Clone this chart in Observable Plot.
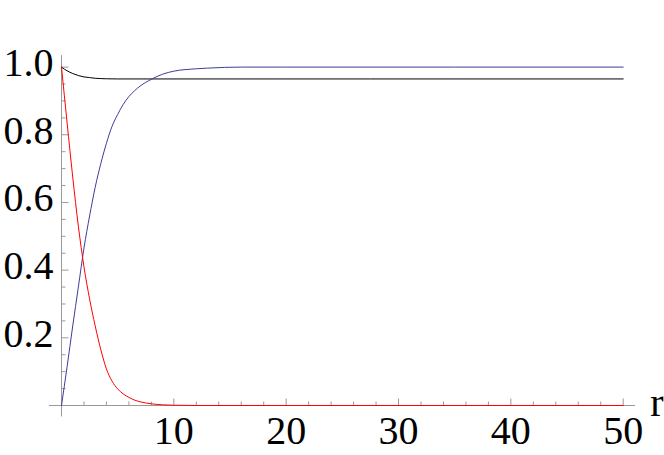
<!DOCTYPE html>
<html>
<head>
<meta charset="utf-8">
<script src="https://cdn.jsdelivr.net/npm/d3@7"></script>
<script src="https://cdn.jsdelivr.net/npm/@observablehq/plot@0.6"></script>
<style>
  html, body { margin: 0; padding: 0; background: #fff; }
  #chart svg { display: block; }
</style>
</head>
<body>
<div id="chart"></div>
<script>
// ---- data ----
const blackR = [0, 0.25, 0.5, 1, 1.5, 2, 2.5, 3, 3.5, 4, 5, 50];
const blackV = [1.0, 0.994, 0.989, 0.981, 0.975, 0.971, 0.969, 0.967, 0.966, 0.9655, 0.965, 0.965];

const blueR = [0, 0.5, 1, 1.5, 2, 2.5, 3, 3.5, 4, 4.5, 5, 5.5, 6, 6.5, 7, 8, 9, 10, 12, 13, 16, 20, 50];
const blueV = [0, 0.115, 0.235, 0.35, 0.465, 0.56, 0.645, 0.715, 0.775, 0.825, 0.86, 0.89, 0.913, 0.93, 0.944, 0.964, 0.979, 0.988, 0.995, 0.997, 1.0, 1.0, 1.0];

const redR = [0, 0.5, 1, 1.5, 2, 2.5, 3, 3.5, 4, 4.5, 5, 5.5, 6, 6.5, 7, 8, 9, 10, 12, 50];
const redV = [1.0, 0.835, 0.675, 0.53, 0.41, 0.315, 0.235, 0.165, 0.108, 0.072, 0.049, 0.034, 0.024, 0.016, 0.011, 0.005, 0.002, 0.0008, 0, 0];

const xMajorTicks = [10, 20, 30, 40, 50];
const xTickLabels = ["10", "20", "30", "40", "50"];
const xMinorTicks = [2, 4, 6, 8, 12, 14, 16, 18, 22, 24, 26, 28, 32, 34, 36, 38, 42, 44, 46, 48];
const yMajorTicks = [0.2, 0.4, 0.6, 0.8, 1.0];
const yTickLabels = ["0.2", "0.4", "0.6", "0.8", "1.0"];
const yMinorTicks = [0.05, 0.1, 0.15, 0.25, 0.3, 0.35, 0.45, 0.5, 0.55, 0.65, 0.7, 0.75, 0.85, 0.9, 0.95];
const xAxisExtent = [-1.07, 51.1];
const yAxisExtent = [-0.034, 1.034];
const xAxisLabel = "r";

// ---- tables built from the arrays ----
const toRows = (R, V, name) => R.map((r, i) => ({r, v: V[i], name}));
const blackRows = toRows(blackR, blackV, "black");
const blueRows = toRows(blueR, blueV, "blue");
const redRows = toRows(redR, redV, "red");
const xLabelRows = xMajorTicks.map((t, i) => ({t, label: xTickLabels[i]}));
const yLabelRows = yMajorTicks.map((t, i) => ({t, label: yTickLabels[i]}));

// custom symbols: inward tick marks (length = r)
const tickUp = {draw(ctx, size) { const l = Math.sqrt(size / Math.PI); ctx.moveTo(0, 0); ctx.lineTo(0, -l); }};
const tickRight = {draw(ctx, size) { const l = Math.sqrt(size / Math.PI); ctx.moveTo(0, 0); ctx.lineTo(l, 0); }};

const axisColor = "#999999";
const font = "'Liberation Serif', 'Times New Roman', serif";

const chart = Plot.plot({
  width: 664,
  height: 455,
  marginLeft: 61,
  marginRight: 41.3,
  marginTop: 66.6,
  marginBottom: 50,
  x: {domain: [0, 50], axis: null},
  y: {domain: [0, 1], axis: null},
  style: {background: "white", overflow: "visible"},
  marks: [
    Plot.ruleY([0], {x1: xAxisExtent[0], x2: xAxisExtent[1], stroke: axisColor, strokeWidth: 1}),
    Plot.ruleX([0], {y1: yAxisExtent[0], y2: yAxisExtent[1], stroke: axisColor, strokeWidth: 1}),
    Plot.dot(xMajorTicks, {x: d => d, y: 0, r: 7, symbol: tickUp, stroke: axisColor, fill: "none", strokeWidth: 1}),
    Plot.dot(xMinorTicks, {x: d => d, y: 0, r: 4, symbol: tickUp, stroke: axisColor, fill: "none", strokeWidth: 1}),
    Plot.dot(yMajorTicks, {x: 0, y: d => d, r: 7, symbol: tickRight, stroke: axisColor, fill: "none", strokeWidth: 1}),
    Plot.dot(yMinorTicks, {x: 0, y: d => d, r: 4, symbol: tickRight, stroke: axisColor, fill: "none", strokeWidth: 1}),
    Plot.line(blackRows, {x: "r", y: "v", stroke: "#000000", strokeWidth: 1, curve: "monotone-x"}),
    Plot.line(blueRows, {x: "r", y: "v", stroke: "rgb(61,61,153)", strokeWidth: 1, curve: "monotone-x"}),
    Plot.line(redRows, {x: "r", y: "v", stroke: "#ff0000", strokeWidth: 1, curve: "monotone-x"}),
    Plot.text(xLabelRows, {x: "t", y: 0, text: "label", textAnchor: "middle", lineAnchor: "bottom", dy: 38, fontSize: 40, fontFamily: font, fill: "#000"}),
    Plot.text(yLabelRows, {x: 0, y: "t", text: "label", textAnchor: "end", lineAnchor: "bottom", dx: -8, dy: 9, fontSize: 40, fontFamily: font, fill: "#000"}),
    Plot.text([xAxisLabel], {x: xMajorTicks[xMajorTicks.length - 1], y: 0, text: d => d, textAnchor: "start", lineAnchor: "bottom", dx: 27, dy: 10, fontSize: 40, fontFamily: font, fill: "#000"})
  ]
});
document.getElementById("chart").appendChild(chart);
</script>
</body>
</html>
